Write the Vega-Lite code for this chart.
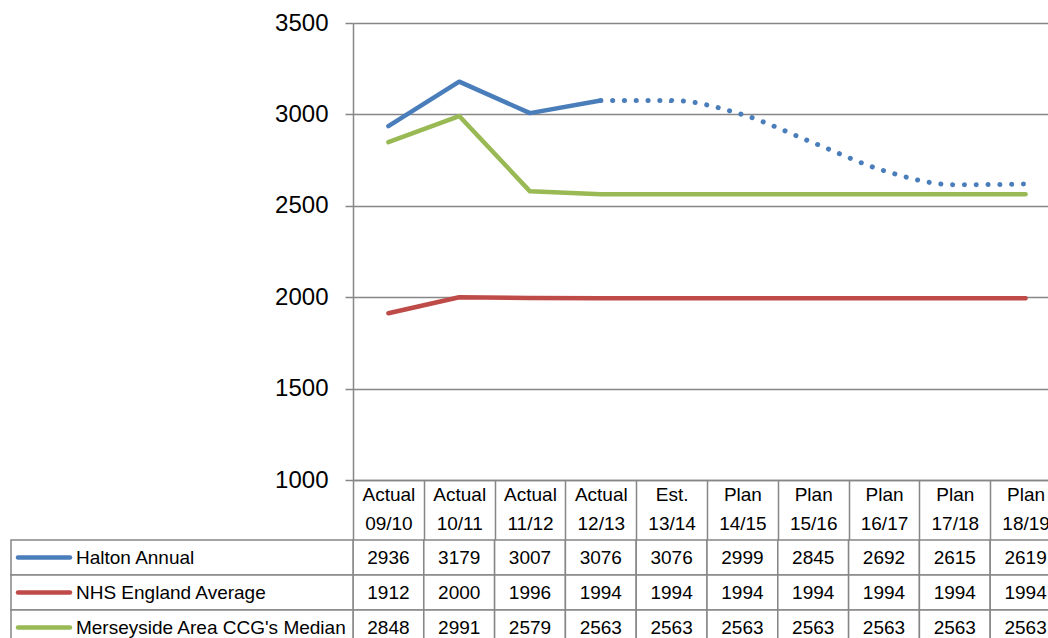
{
  "$schema": "https://vega.github.io/schema/vega-lite/v6.json",
  "autosize": {"type": "none"},
  "width": 695,
  "height": 457,
  "padding": {"left": 353, "top": 23, "right": 0, "bottom": 158},
  "background": "white",
  "config": {"view": {"stroke": null}, "font": "Liberation Sans"},
  "data": {
    "values": [
      {"cat": "Actual 09/10", "series": "Halton Annual", "value": 2936},
      {"cat": "Actual 10/11", "series": "Halton Annual", "value": 3179},
      {"cat": "Actual 11/12", "series": "Halton Annual", "value": 3007},
      {"cat": "Actual 12/13", "series": "Halton Annual", "value": 3076},
      {"cat": "Est. 13/14", "series": "Halton Annual", "value": 3076},
      {"cat": "Plan 14/15", "series": "Halton Annual", "value": 2999},
      {"cat": "Plan 15/16", "series": "Halton Annual", "value": 2845},
      {"cat": "Plan 16/17", "series": "Halton Annual", "value": 2692},
      {"cat": "Plan 17/18", "series": "Halton Annual", "value": 2615},
      {"cat": "Plan 18/19", "series": "Halton Annual", "value": 2619},
      {"cat": "Actual 09/10", "series": "NHS England Average", "value": 1912},
      {"cat": "Actual 10/11", "series": "NHS England Average", "value": 2000},
      {"cat": "Actual 11/12", "series": "NHS England Average", "value": 1996},
      {"cat": "Actual 12/13", "series": "NHS England Average", "value": 1994},
      {"cat": "Est. 13/14", "series": "NHS England Average", "value": 1994},
      {"cat": "Plan 14/15", "series": "NHS England Average", "value": 1994},
      {"cat": "Plan 15/16", "series": "NHS England Average", "value": 1994},
      {"cat": "Plan 16/17", "series": "NHS England Average", "value": 1994},
      {"cat": "Plan 17/18", "series": "NHS England Average", "value": 1994},
      {"cat": "Plan 18/19", "series": "NHS England Average", "value": 1994},
      {"cat": "Actual 09/10", "series": "Merseyside Area CCG's Median", "value": 2848},
      {"cat": "Actual 10/11", "series": "Merseyside Area CCG's Median", "value": 2991},
      {"cat": "Actual 11/12", "series": "Merseyside Area CCG's Median", "value": 2579},
      {"cat": "Actual 12/13", "series": "Merseyside Area CCG's Median", "value": 2563},
      {"cat": "Est. 13/14", "series": "Merseyside Area CCG's Median", "value": 2563},
      {"cat": "Plan 14/15", "series": "Merseyside Area CCG's Median", "value": 2563},
      {"cat": "Plan 15/16", "series": "Merseyside Area CCG's Median", "value": 2563},
      {"cat": "Plan 16/17", "series": "Merseyside Area CCG's Median", "value": 2563},
      {"cat": "Plan 17/18", "series": "Merseyside Area CCG's Median", "value": 2563},
      {"cat": "Plan 18/19", "series": "Merseyside Area CCG's Median", "value": 2563}
    ]
  },
  "layer": [
    {
      "encoding": {
        "x": {
          "field": "cat", "type": "nominal", "sort": null, "bandPosition": 0.5,
          "scale": {"type": "band", "range": [0, 708], "paddingInner": 0, "paddingOuter": 0},
          "axis": {
            "title": null, "orient": "bottom", "labelAngle": 0,
            "domainColor": "#868686", "domainWidth": 1.5,
            "tickColor": "#868686", "tickWidth": 1.5, "tickSize": 60, "tickBand": "extent",
            "labelExpr": "split(datum.label, ' ')",
            "labelFontSize": 19, "labelColor": "black", "labelFont": "Liberation Sans",
            "labelPadding": -55, "labelBaseline": "top", "labelLineHeight": 29,
            "labelOverlap": false
          }
        },
        "y": {
          "field": "value", "type": "quantitative",
          "scale": {"domain": [1000, 3500], "nice": false, "zero": false},
          "axis": {
            "title": null, "values": [1000, 1500, 2000, 2500, 3000, 3500], "format": "d",
            "grid": true, "gridColor": "#868686", "gridWidth": 1.5,
            "domainColor": "#868686", "domainWidth": 1.5,
            "tickColor": "#868686", "tickWidth": 1.5, "tickSize": 8,
            "labelFontSize": 24, "labelColor": "black", "labelFont": "Liberation Sans",
            "labelPadding": 17
          }
        }
      },
      "layer": [
        {
          "transform": [
            {"filter": {"field": "series", "oneOf": ["NHS England Average", "Merseyside Area CCG's Median"]}}
          ],
          "mark": {"type": "line", "strokeWidth": 4.5, "strokeCap": "round", "strokeJoin": "round"},
          "encoding": {
            "color": {
              "field": "series", "type": "nominal",
              "scale": {
                "domain": ["Halton Annual", "NHS England Average", "Merseyside Area CCG's Median"],
                "range": ["#4A7EBB", "#BE4B48", "#98B954"]
              },
              "legend": null
            }
          }
        },
        {
          "transform": [
            {"filter": {"field": "series", "equal": "Halton Annual"}},
            {"filter": {"field": "cat", "oneOf": ["Actual 09/10", "Actual 10/11", "Actual 11/12", "Actual 12/13"]}}
          ],
          "mark": {"type": "line", "color": "#4A7EBB", "strokeWidth": 4.5, "strokeCap": "round", "strokeJoin": "round"}
        },
        {
          "transform": [
            {"filter": {"field": "series", "equal": "Halton Annual"}},
            {"filter": {"field": "cat", "oneOf": ["Actual 12/13", "Est. 13/14", "Plan 14/15", "Plan 15/16", "Plan 16/17", "Plan 17/18", "Plan 18/19"]}}
          ],
          "mark": {"type": "line", "color": "#4A7EBB", "strokeWidth": 5, "strokeCap": "round", "strokeDash": [0.1, 11.7], "interpolate": "monotone"}
        }
      ]
    },
    {
      "layer": [
        {
          "mark": {"type": "rect", "fill": "white", "stroke": "#868686", "strokeWidth": 1.5},
          "encoding": {
            "x": {
              "field": "cat", "type": "nominal", "sort": null,
              "scale": {"type": "band", "range": [0, 708], "paddingInner": 0, "paddingOuter": 0},
              "axis": null
            },
            "y": {
              "field": "series", "type": "nominal",
              "scale": {"type": "band", "domain": ["Halton Annual", "NHS England Average", "Merseyside Area CCG's Median"], "range": [517, 622], "paddingInner": 0, "paddingOuter": 0},
              "axis": null
            }
          }
        },
        {
          "mark": {"type": "text", "fontSize": 19, "color": "black", "font": "Liberation Sans", "baseline": "middle", "align": "center"},
          "encoding": {
            "x": {
              "field": "cat", "type": "nominal", "sort": null, "bandPosition": 0.5,
              "scale": {"type": "band", "range": [0, 708], "paddingInner": 0, "paddingOuter": 0},
              "axis": null
            },
            "y": {
              "field": "series", "type": "nominal", "bandPosition": 0.5,
              "scale": {"type": "band", "domain": ["Halton Annual", "NHS England Average", "Merseyside Area CCG's Median"], "range": [517, 622], "paddingInner": 0, "paddingOuter": 0},
              "axis": null
            },
            "text": {"field": "value", "type": "quantitative", "format": "d"}
          }
        }
      ]
    },
    {
      "transform": [{"filter": {"field": "cat", "equal": "Actual 09/10"}}],
      "layer": [
        {
          "mark": {"type": "rect", "fill": "white", "stroke": "#868686", "strokeWidth": 1.5},
          "encoding": {
            "x": {
              "datum": "lbl", "type": "nominal",
              "scale": {"type": "band", "range": [-342, 0], "paddingInner": 0, "paddingOuter": 0},
              "axis": null
            },
            "y": {
              "field": "series", "type": "nominal",
              "scale": {"type": "band", "domain": ["Halton Annual", "NHS England Average", "Merseyside Area CCG's Median"], "range": [517, 622], "paddingInner": 0, "paddingOuter": 0},
              "axis": null
            }
          }
        },
        {
          "mark": {"type": "point", "shape": "stroke", "size": 2704, "strokeWidth": 4.5, "strokeCap": "round", "filled": false, "opacity": 1},
          "encoding": {
            "x": {
              "datum": "lbl", "type": "nominal", "bandPosition": 0.0965,
              "scale": {"type": "band", "range": [-342, 0], "paddingInner": 0, "paddingOuter": 0},
              "axis": null
            },
            "y": {
              "field": "series", "type": "nominal", "bandPosition": 0.5,
              "scale": {"type": "band", "domain": ["Halton Annual", "NHS England Average", "Merseyside Area CCG's Median"], "range": [517, 622], "paddingInner": 0, "paddingOuter": 0},
              "axis": null
            },
            "color": {
              "field": "series", "type": "nominal",
              "scale": {
                "domain": ["Halton Annual", "NHS England Average", "Merseyside Area CCG's Median"],
                "range": ["#4A7EBB", "#BE4B48", "#98B954"]
              },
              "legend": null
            }
          }
        },
        {
          "mark": {"type": "text", "fontSize": 19, "color": "black", "font": "Liberation Sans", "baseline": "middle", "align": "left"},
          "encoding": {
            "x": {
              "datum": "lbl", "type": "nominal", "bandPosition": 0.19,
              "scale": {"type": "band", "range": [-342, 0], "paddingInner": 0, "paddingOuter": 0},
              "axis": null
            },
            "y": {
              "field": "series", "type": "nominal", "bandPosition": 0.5,
              "scale": {"type": "band", "domain": ["Halton Annual", "NHS England Average", "Merseyside Area CCG's Median"], "range": [517, 622], "paddingInner": 0, "paddingOuter": 0},
              "axis": null
            },
            "text": {"field": "series", "type": "nominal"}
          }
        }
      ]
    }
  ],
  "resolve": {"scale": {"x": "independent", "y": "independent"}}
}
